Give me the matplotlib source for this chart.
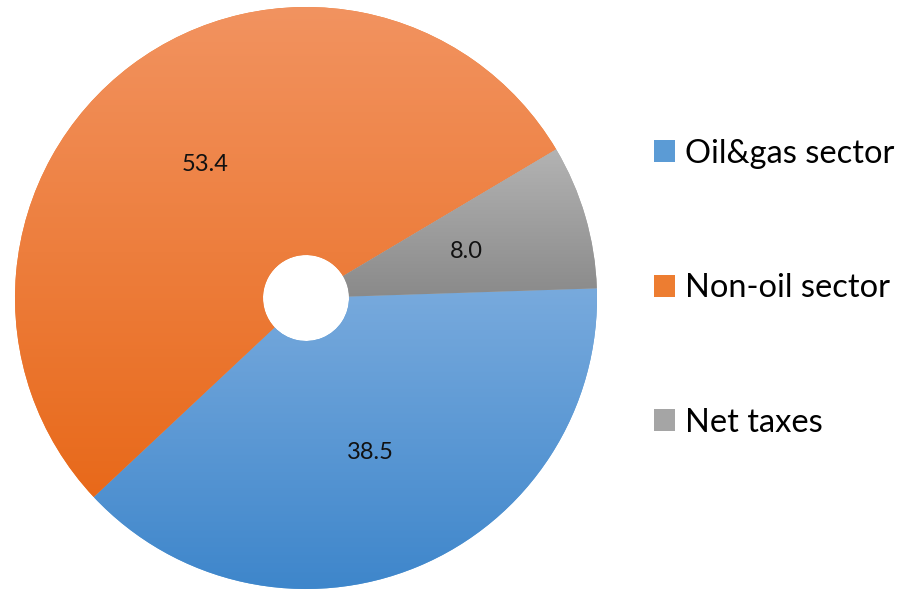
import numpy as np
import matplotlib.pyplot as plt
from matplotlib.patches import Patch
from matplotlib.colors import LinearSegmentedColormap

# data
sectors = ["Oil&gas sector", "Non-oil sector", "Net taxes"]
shares = [38.5, 53.4, 8.0]
value_labels = ["38.5", "53.4", "8.0"]

# gradient colours (top, bottom) for every slice
tops = ["#78aadd", "#f29360", "#b3b3b3"]
bottoms = ["#3e86cb", "#e8691a", "#8a8a8a"]
mids = ["#5b9bd5", "#ed7d31", "#a5a5a5"]

plt.rcParams['font.family'] = ['Lato', 'DejaVu Sans']

fig = plt.figure(figsize=(9.13, 5.94), dpi=100)
ax = fig.add_axes([0, 0, 1, 1])

cx, cy, R, r_hole = 306, 296, 291, 43
wedges, _ = ax.pie(shares, startangle=1.9, counterclock=False,
                   center=(cx, cy), radius=R, frame=True,
                   wedgeprops=dict(width=R - r_hole, linewidth=0),
                   colors=mids)

# vertical gradient on each slice
for w, top, bot in zip(wedges, tops, bottoms):
    ext = w.get_path().get_extents(w.get_transform() - ax.transData)
    cmap = LinearSegmentedColormap.from_list("g", [bot, top])
    grad = np.linspace(0, 1, 256).reshape(-1, 1)
    im = ax.imshow(grad, cmap=cmap, origin='lower', aspect='auto',
                   extent=[ext.x0, ext.x1, ext.y0, ext.y1], zorder=2)
    im.set_clip_path(w)

# value labels
for w, txt in zip(wedges, value_labels):
    ang = np.deg2rad((w.theta1 + w.theta2) / 2)
    rr = 167
    ax.text(cx + rr * np.cos(ang), cy + rr * np.sin(ang), txt,
            ha='center', va='center', fontsize=17, color='#111111', zorder=3)

ax.set_xlim(0, 913)
ax.set_ylim(0, 594)
ax.set_aspect('equal')
ax.axis('off')

handles = [Patch(facecolor=c, edgecolor='none') for c in mids]
leg = ax.legend(handles, sectors, loc='center left', bbox_to_anchor=(0.684, 0.515),
                frameon=False, fontsize=23.5, labelspacing=3.2,
                handlelength=0.66, handleheight=0.66, handletextpad=0.3)

fig.savefig("out.png", dpi=100)
